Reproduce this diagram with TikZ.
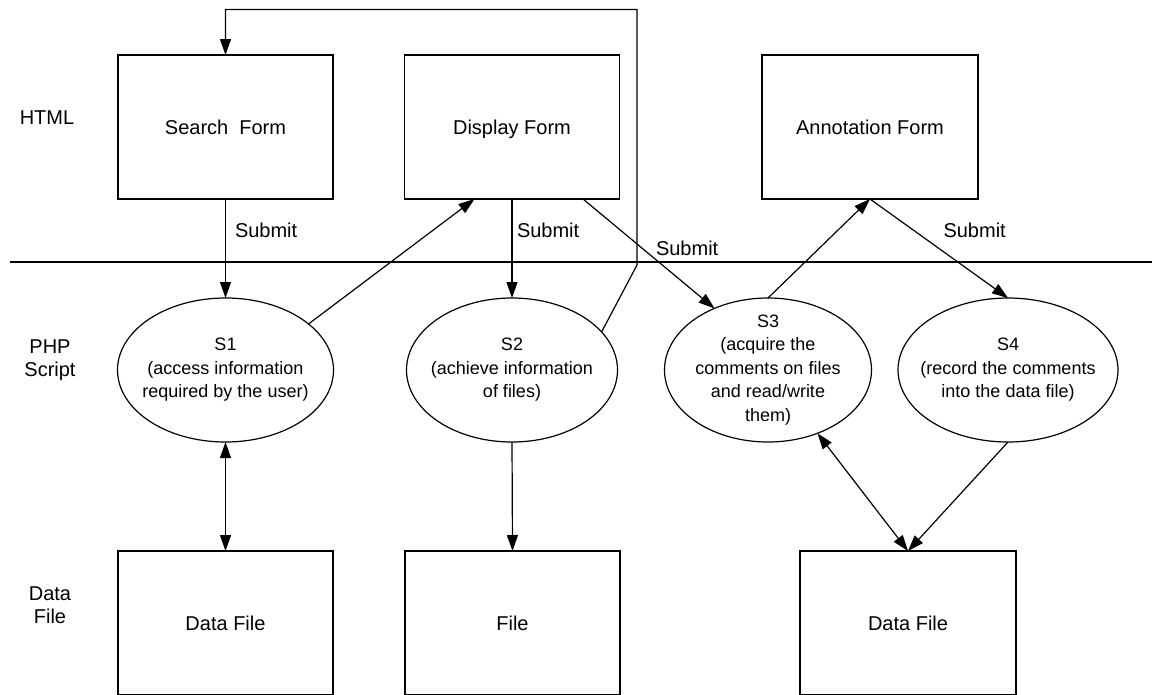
\documentclass[tikz,border=0pt]{standalone}
\usepackage{fontspec}
\setmainfont{Liberation Sans}
\usetikzlibrary{arrows.meta,shapes.geometric,calc}

\begin{document}
\begin{tikzpicture}[x=1pt,y=-1pt,
  line width=1.2pt,
  every node/.style={inner sep=0pt, outer sep=0pt},
  formbox/.style={draw, rectangle, minimum width=215pt, minimum height=144pt,
    text height=14.3pt, text depth=0pt,
    font=\fontsize{20}{23.5}\selectfont},
  proc/.style={draw, ellipse, minimum height=144pt},
  proctext/.style={align=center, font=\fontsize{18}{23.5}\selectfont},
  lanelabel/.style={align=center, font=\fontsize{20}{23.5}\selectfont},
  flowlabel/.style={anchor=west, font=\fontsize{20}{23.5}\selectfont},
  flow/.style={-{Triangle[length=16pt,width=11pt]}},
  bothflow/.style={{Triangle[length=16pt,width=11pt]}-{Triangle[length=16pt,width=11pt]}},
]
\useasboundingbox (0,0) rectangle (1155,694);
\clip (0,0) rectangle (1155,694);

% lane names
\node[lanelabel] (lhtml) at (47,118) {HTML};
\node[lanelabel] (lphp)  at (50,360) {PHP\\Script};
\node[lanelabel] (ldata) at (50,605) {Data\\File};

% boundary between the HTML layer and the script layer
\coordinate (ruleL) at (10,262);
\coordinate (ruleR) at (1152,262);
\draw (ruleL) -- (ruleR);

% HTML forms
\node[formbox] (sf) at (225.5,127) {Search~ Form};
\node[formbox] (df) at (512,127) {Display Form};
\node[formbox, minimum width=216pt] (af) at (870,127) {Annotation Form};

% PHP scripts
\node[proc, minimum width=216pt,
  label={[proctext]center:{S1\\(access information\\required by the user)}}] (s1) at (225.5,370) {};
\node[proc, minimum width=211pt,
  label={[proctext]center:{S2\\(achieve information\\of files)}}] (s2) at (512,370) {};
\node[proc, minimum width=207pt,
  label={[proctext]center:{S3\\(acquire the\\comments on files\\and read/write\\them)}}] (s3) at (768,370) {};
\node[proc, minimum width=220pt,
  label={[proctext]center:{S4\\(record the comments\\into the data file)}}] (s4) at (1008,370) {};

% data files
\node[formbox] (d1) at (225.5,623) {Data File};
\node[formbox] (d2) at (512.5,623) {File};
\node[formbox, minimum width=216pt] (d3) at (908,623) {Data File};

% submit labels
\node[flowlabel] (sub1) at (235,230) {Submit};
\node[flowlabel] (sub2) at (517,230) {Submit};
\node[flowlabel] (sub3) at (656,248) {Submit};
\node[flowlabel] (sub4) at (943.5,230) {Submit};

% flows
\coordinate (loopbend) at (637,265);
\coordinate (looptop) at (637,9.5);
\draw[flow] (s2.23) -- (loopbend) -- (looptop) -| (sf.north);
\draw[flow] (sf.south) -- (s1.north);
\draw[flow] (s1.29) -- ($(df.south)+(-37.5,0)$);
\draw[flow] (df.south) -- (s2.north);
\draw[flow] ($(df.south)+(71,0)$) -- (s3.131);
\draw[flow] (s3.north) -- (af.south);
\draw[flow] (af.south) -- (s4.north);
\draw[bothflow] (s1.south) -- (d1.north);
\draw[flow] (s2.south) -- (d2.north);
\draw[bothflow] (s3.-52) -- (d3.north);
\draw[flow] (s4.south) -- (d3.north);
\end{tikzpicture}
\end{document}
